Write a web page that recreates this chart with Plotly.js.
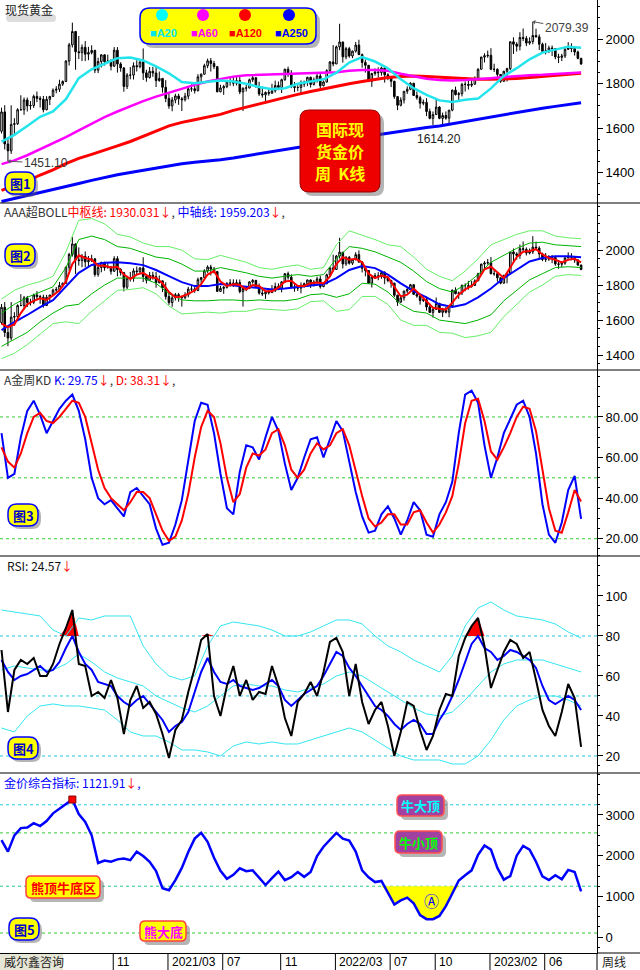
<!DOCTYPE html>
<html><head><meta charset="utf-8">
<script src="https://cdn.plot.ly/plotly-3.0.1.min.js"></script>
<style>html,body{margin:0;padding:0;background:#fff;}#chart{width:640px;height:970px;}</style>
</head><body><div id="chart"></div>
<script>
// ---------- weekly candles (week 0 = 2020-03-06 ... week 180 = 2023-08-18) ----------
const open = [1586,1673,1529,1498,1617,1620,1683,1683,1727,1700,
1702,1743,1734,1730,1683,1730,1743,1771,1775,1798,
1810,1902,1975,2035,1944,1940,1964,1933,1940,1950,
1861,1900,1930,1899,1902,1879,1951,1889,1871,1788,
1839,1839,1881,1877,1898,1849,1828,1856,1848,1814,
1824,1784,1734,1700,1727,1745,1732,1728,1744,1777,
1777,1769,1831,1843,1881,1903,1891,1877,1764,1781,
1787,1808,1812,1802,1814,1763,1780,1781,1818,1827,
1787,1754,1750,1761,1757,1768,1792,1783,1818,1865,
1845,1788,1783,1783,1798,1808,1829,1797,1818,1835,
1791,1808,1859,1898,1889,1966,1988,1921,1958,1925,
1947,1974,1931,1896,1883,1811,1846,1853,1850,1871,
1840,1826,1811,1742,1703,1727,1766,1775,1802,1747,
1737,1712,1716,1675,1644,1661,1695,1644,1657,1645,
1681,1771,1751,1755,1797,1797,1793,1798,1824,1865,
1920,1926,1928,1865,1865,1842,1811,1856,1868,1989,
1978,1969,2008,2004,1983,1990,2017,2011,1978,1946,
1948,1961,1958,1921,1919,1925,1955,1962,1959,1943,
1914];
const high = [1692,1703,1560,1703,1645,1690,1748,1738,1738,1722,
1751,1765,1744,1745,1744,1745,1779,1789,1818,1815,
1906,1984,2075,2038,2015,1977,1992,1966,1973,1953,
1917,1933,1933,1931,1910,1965,1965,1897,1875,1848,
1875,1896,1906,1901,1959,1863,1875,1876,1875,1855,
1825,1816,1760,1740,1755,1755,1740,1759,1790,1797,
1790,1843,1846,1890,1913,1916,1903,1878,1795,1795,
1818,1834,1833,1832,1832,1783,1795,1823,1834,1829,
1809,1787,1765,1781,1800,1814,1810,1823,1868,1877,
1861,1808,1793,1815,1814,1831,1832,1828,1848,1853,
1815,1865,1902,1974,1972,2070,1989,1966,1966,1949,
1988,1998,1936,1909,1884,1849,1869,1874,1877,1879,
1847,1830,1813,1745,1739,1767,1788,1807,1804,1765,
1746,1729,1735,1688,1675,1729,1699,1670,1675,1682,
1774,1787,1763,1804,1810,1824,1824,1833,1870,1921,
1937,1949,1960,1890,1869,1843,1858,1872,1989,2009,
1987,2032,2049,2015,2009,2079.39,2048,2022,1985,1983,
1971,1972,1959,1935,1935,1963,1987,1982,1960,1949,
1917];
const low = [1576,1504,1451.1,1484,1567,1614,1680,1660,1675,1683,
1691,1717,1693,1671,1680,1704,1740,1757,1763,1790,
1807,1882,1963,1863,1911,1902,1902,1906,1932,1848,
1848,1873,1882,1895,1860,1876,1850,1854,1764,1776,
1820,1819,1855,1869,1817,1809,1823,1831,1785,1809,
1760,1717,1687,1676,1712,1705,1677,1720,1730,1764,
1756,1765,1808,1840,1870,1855,1866,1761,1761,1750,
1780,1791,1789,1792,1753,1677,1765,1779,1808,1782,
1745,1737,1721,1746,1755,1760,1771,1758,1813,1831,
1780,1762,1766,1753,1785,1789,1783,1792,1805,1780,
1788,1805,1851,1878,1889,1951,1895,1910,1917,1915,
1940,1930,1872,1850,1807,1786,1836,1828,1836,1805,
1816,1785,1732,1681,1698,1711,1754,1771,1745,1728,
1688,1703,1654,1640,1614.2,1660,1640,1617,1638,1616,
1676,1747,1721,1743,1765,1774,1785,1795,1824,1865,
1896,1917,1861,1853,1819,1804,1809,1810,1861,1934,
1945,1950,1992,1969,1975,1978,2008,1952,1937,1932,
1938,1925,1910,1893,1902,1916,1952,1942,1927,1910,
1885];
const close = [1673,1529,1498,1617,1620,1683,1683,1727,1700,1702,
1743,1734,1730,1683,1730,1743,1771,1775,1798,1810,
1902,1975,2035,1944,1940,1964,1933,1940,1950,1861,
1900,1930,1899,1902,1879,1951,1889,1871,1788,1839,
1839,1881,1877,1898,1849,1828,1856,1848,1814,1824,
1784,1734,1700,1727,1745,1732,1728,1744,1777,1777,
1769,1831,1843,1881,1903,1891,1877,1764,1781,1787,
1808,1812,1802,1814,1763,1780,1781,1818,1827,1787,
1754,1750,1761,1757,1768,1792,1783,1818,1865,1845,
1788,1783,1783,1798,1808,1829,1797,1818,1835,1791,
1808,1859,1898,1889,1966,1988,1921,1958,1925,1947,
1974,1931,1896,1883,1811,1846,1853,1850,1871,1840,
1826,1811,1742,1703,1727,1766,1775,1802,1747,1737,
1712,1716,1675,1644,1661,1695,1644,1657,1645,1681,
1771,1751,1755,1797,1797,1793,1798,1824,1865,1920,
1926,1928,1865,1865,1842,1811,1856,1868,1989,1978,
1969,2008,2004,1983,1990,2017,2011,1978,1946,1948,
1961,1958,1921,1919,1925,1955,1962,1959,1943,1914,
1889];

const ma20 = [1539,1570,1610,1651,1675,1730,1825,1865,1890,1915,1918,1905,1878,1847,1808,1802,1809,1815,1810,1800,
1785,1775,1780,1800,1810,1820,1850,1895,1920,1900,1870,1820,1780,1750,1725,1718,1728,1733,1779,1835,
1870,1910,1940,1952,1967,1962];
const ma60 = [1438,1455,1478,1505,1530,1560,1590,1620,1650,1675,1700,1722,1742,1760,1779,1795,1810,1822,1832,1838,
1840,1840,1843,1845,1847,1850,1852,1858,1862,1862,1858,1845,1832,1822,1817,1815,1817,1820,1825,1830,
1835,1838,1840,1843,1846,1850];
const ma120 = [1320,1340,1362,1389,1412,1440,1464,1482,1500,1520,1540,1565,1587,1610,1626,1638,1650,1662,1680,1695,
1710,1725,1740,1752,1765,1777,1790,1800,1810,1820,1828,1833,1835,1833,1830,1826,1822,1820,1820,1820,
1823,1828,1833,1838,1843,1847];
const ma250 = [1270,1283,1296,1309,1322,1336,1351,1365,1378,1390,1400,1410,1423,1432,1440,1446,1451,1458,1466,1475,
1485,1495,1505,1514,1523,1532,1541,1551,1560,1569,1578,1587,1595,1603,1610,1620,1630,1640,1650,1661,
1671,1682,1690,1698,1706,1714];

// ---------- AAA super BOLL (every 4 weeks; pivot every 2 weeks) ----------
const bollMid = [1543,1589,1629,1674,1714,1790,1870,1915,1928,1931,1925,1914,1886,1851,1817,1794,1794,1806,1800,1790,
1783,1775,1780,1790,1798,1805,1840,1886,1909,1897,1860,1810,1765,1730,1690,1675,1690,1730,1780,1840,
1890,1935,1955,1965,1965,1959.203];
const bollInUp = [1640,1690,1730,1760,1790,1900,2060,2080,2060,2020,2010,1985,1960,1950,1920,1880,1880,1900,1885,1870,
1850,1840,1850,1860,1850,1860,1950,2020,2010,1990,1960,1930,1880,1820,1780,1760,1800,1860,1930,1970,
2010,2040,2045,2030,2025,2020];
const bollOutUp = [1720,1770,1800,1820,1850,1990,2170,2180,2150,2090,2075,2040,2020,2020,2000,1950,1945,1970,1950,1930,
1900,1890,1905,1915,1890,1900,2030,2110,2085,2060,2030,2020,1960,1890,1850,1825,1880,1950,2030,2060,
2090,2110,2110,2080,2070,2065];
const bollInLow = [1450,1490,1530,1590,1640,1680,1690,1750,1800,1840,1840,1840,1810,1750,1715,1710,1710,1715,1715,1710,
1715,1710,1710,1720,1745,1750,1730,1750,1810,1805,1760,1690,1650,1640,1600,1590,1580,1600,1630,1710,
1770,1830,1865,1900,1905,1900];
const bollOutLow = [1380,1410,1460,1520,1580,1590,1580,1650,1710,1770,1775,1785,1750,1680,1635,1640,1645,1640,1650,1650,
1665,1660,1655,1665,1705,1710,1650,1660,1735,1735,1690,1600,1570,1570,1530,1525,1500,1510,1530,1620,
1690,1760,1800,1850,1860,1855];
const bollPivot = [1580,1560,1575,1640,1690,1710,1725,1715,1740,1770,1820,1920,1970,1955,1945,1910,1910,1900,1905,1860,
1835,1860,1870,1845,1840,1810,1760,1730,1735,1750,1770,1805,1860,1880,1820,1795,1805,1800,1775,1800,
1795,1765,1765,1785,1820,1825,1795,1795,1810,1815,1810,1850,1920,1960,1945,1950,1930,1865,1840,1855,
1845,1790,1735,1745,1780,1745,1710,1670,1665,1660,1700,1745,1775,1795,1830,1890,1905,1870,1840,1900,
1960,1990,1995,2005,1975,1955,1945,1930,1945,1950,1930.031];

// ---------- weekly KD (every 2 weeks) ----------
const kLine = [72,50,52,70,83,88,81,72,78,84,88,91,83,69,50,40,37,39,35,31,
43,45,41,37,25,17,18,27,39,58,78,87,86,72,52,35,32,53,66,65,
59,70,80,73,57,44,50,60,69,70,60,69,78,73,58,43,31,23,24,32,
36,30,22,29,38,34,22,21,32,38,48,72,91,93,87,66,50,60,72,79,
86,88,80,62,37,22,18,28,44,51,29.75];
const dLine = [65,58,55,62,72,80,82,78,77,80,84,88,87,80,67,54,45,40,37,34,
38,43,43,40,32,24,19,21,29,42,60,75,83,80,67,50,38,42,55,62,
61,64,72,74,66,54,50,54,62,67,64,66,72,74,66,53,41,30,26,28,
32,32,27,27,33,34,28,23,27,33,41,57,77,88,89,78,63,59,65,72,
80,85,84,73,53,35,24,23,33,44,38.31];

// ---------- RSI (every 2 weeks) and its bands (every 4 weeks) ----------
const rsi = [73,42,63,68,66,69,60,60,66,76,84,93,66,65,50,52,49,58,49,31,
48,55,44,47,41,31,19,33,38,52,64,78,81,50,40,55,65,50,58,48,
52,51,65,55,39,30,47,51,57,50,62,77,79,72,50,66,47,36,43,47,
35,20,32,47,45,33,23,30,43,51,50,70,79,85,89,75,54,63,72,78,
76,69,72,58,43,35,30,42,56,49,24.57];
const rsiMa = [68,62,58,60,61,63,65,62,63,67,74,80,72,66,63,57,56,55,50,47,
45,48,50,46,42,38,32,35,37,42,52,62,69,62,57,56,58,55,54,53,
54,56,58,55,48,45,48,51,53,55,60,66,72,70,64,60,55,50,45,43,
40,36,33,36,38,36,31,31,38,43,50,58,67,76,80,74,72,68,70,73,
72,70,68,64,55,48,46,48,50,48,43];
const rsiUp = [93,92,91,90,83,80,89,88,90,90,90,75,66,60,58,60,75,85,87,86,
85,83,80,80,82,85,88,88,86,80,75,72,68,65,62,70,85,94,97,93,
90,89,88,86,82,79];
const rsiMid = [63,65,64,63,63,66,71,67,62,59,57,55,50,47,44,42,45,50,55,56,
55,55,53,52,54,56,60,62,60,56,52,48,44,41,40,42,48,55,62,66,
68,68,68,66,64,62];
const rsiLow = [34,32,40,45,46,45,45,44,43,38,32,30,30,27,23,23,22,20,25,27,
26,27,26,26,28,30,32,34,32,28,24,20,18,18,18,16,16,20,28,38,
45,48,50,50,48,45];

// ---------- gold composite index (every 2 weeks) ----------
const composite = [2383,2100,2500,2678,2690,2800,2727,2850,3040,3160,3260,3380,3020,2830,2500,1820,1880,1850,1910,1930,
1890,2100,1990,1850,1620,1200,1150,1400,1700,2090,2420,2560,2340,1950,1630,1430,1530,1690,1620,1640,
1460,1280,1450,1610,1400,1470,1600,1480,1600,1990,2220,2380,2560,2420,2370,2100,1640,1470,1351,1380,
1100,800,900,970,830,540,440,440,520,760,1070,1390,1520,1640,2020,2250,2150,1700,1410,1500,
2000,2240,2150,1850,1490,1400,1520,1420,1650,1600,1121.91];
const bullBearLine = 1250;        // 熊顶牛底区 level
const bottomZone = [118, 142];    // weeks of the shaded bottom (Ⓐ)

// ---------- x axis labels ----------
const tickWeeks = [35, 52, 69, 87, 104, 121, 135, 152, 169];
const tickText  = ['11','2021/03','07','11','2022/03','07','10','2023/02','06'];

// ================= drawing =================
const wk = close.map((_, i) => i);
const w2 = kLine.map((_, i) => 2 * i);
const w4 = ma20.map((_, i) => 4 * i);

const PW = 597, PH = 953;
const X = p => p / PW;
const Y = p => (PH - p) / PH;
const FONT = 'Liberation Sans, Arial, Noto Sans CJK SC, sans-serif';
const CJK = 'Noto Sans CJK SC, Liberation Sans, sans-serif';

function line(x, y, yaxis, color, width, extra) {
  return Object.assign({type:'scatter', mode:'lines', x, y, xaxis:'x', yaxis,
    line:{color, width}, hoverinfo:'skip', cliponaxis:true}, extra || {});
}
function candles(yaxis, w) {
  return {type:'candlestick', x:wk, open, high, low, close, xaxis:'x', yaxis,
    increasing:{line:{color:'#000', width:w}, fillcolor:'#fff'},
    decreasing:{line:{color:'#000', width:w}, fillcolor:'#000'},
    whiskerwidth:0, hoverinfo:'skip'};
}

const traces = [];
// panel 1
traces.push(candles('y', 1));
traces.push(line(w4, ma250, 'y', '#0000ff', 3));
traces.push(line(w4, ma120, 'y', '#ff0000', 3));
traces.push(line(w4, ma60, 'y', '#ff00ff', 2.5));
traces.push(line(w4, ma20, 'y', '#22e4ec', 2.5));
// panel 2
traces.push(candles('y2', 1));
traces.push(line(w4, bollOutUp, 'y2', '#66ee66', 1));
traces.push(line(w4, bollOutLow, 'y2', '#66ee66', 1));
traces.push(line(w4, bollInUp, 'y2', '#00b400', 1));
traces.push(line(w4, bollInLow, 'y2', '#00b400', 1));
traces.push(line(w4, bollMid, 'y2', '#0000ff', 2));
traces.push(line(w2, bollPivot, 'y2', '#ff0000', 2));
// panel 3
traces.push(line(w2, kLine, 'y3', '#0000ff', 2));
traces.push(line(w2, dLine, 'y3', '#ff0000', 2));
// panel 4
traces.push(line(w2, rsi.map(() => 80), 'y4', 'rgba(0,0,0,0)', 0));
traces.push(line(w2, rsi.map(v => Math.max(v, 80)), 'y4', 'rgba(0,0,0,0)', 0, {fill:'tonexty', fillcolor:'#ff0000'}));
traces.push(line(w4, rsiUp, 'y4', '#33e6f0', 1));
traces.push(line(w4, rsiMid, 'y4', '#33e6f0', 1));
traces.push(line(w4, rsiLow, 'y4', '#33e6f0', 1));
traces.push(line(w2, rsiMa, 'y4', '#0000ff', 2));
traces.push(line(w2, rsi, 'y4', '#000000', 2));
// panel 5
const zi = w2.map((w, i) => i).filter(i => w2[i] >= bottomZone[0] && w2[i] <= bottomZone[1]);
traces.push(line(zi.map(i => w2[i]), zi.map(() => bullBearLine), 'y5', 'rgba(0,0,0,0)', 0));
traces.push(line(zi.map(i => w2[i]), zi.map(i => Math.min(composite[i], bullBearLine)), 'y5', 'rgba(0,0,0,0)', 0, {fill:'tonexty', fillcolor:'#ffff00'}));
traces.push(line(w2, composite, 'y5', '#0000ff', 2.5));
const pk = composite.indexOf(Math.max(...composite));
traces.push({type:'scatter', mode:'markers', x:[w2[pk]], y:[composite[pk]], xaxis:'x', yaxis:'y5',
  marker:{symbol:'square', size:7, color:'#ff0000', line:{color:'#800000', width:1}}, hoverinfo:'skip'});

function yax(domain, range, tickvals, fmt, minorD) {
  return {domain, range, side:'right', anchor:'x', tickvals, tickformat:fmt, showgrid:false, zeroline:false,
    showline:true, linecolor:'#000', linewidth:1, ticks:'outside', ticklen:5, tickcolor:'#000',
    tickfont:{family:FONT, size:13, color:'#000'},
    minor:{ticks:'outside', ticklen:2, tickcolor:'#000', dtick:minorD, showgrid:false}, fixedrange:true};
}

const shapes = [];
const annotations = [];
function rr(x0, y0, x1, y1, r) {
  const p = (x, y) => X(x) + ',' + Y(y);
  return `M${p(x0+r,y0)} L${p(x1-r,y0)} Q${p(x1,y0)} ${p(x1,y0+r)} L${p(x1,y1-r)} Q${p(x1,y1)} ${p(x1-r,y1)} L${p(x0+r,y1)} Q${p(x0,y1)} ${p(x0,y1-r)} L${p(x0,y0+r)} Q${p(x0,y0)} ${p(x0+r,y0)} Z`;
}
function box(x0, y0, x1, y1, r, fill, border, bw, shadow) {
  if (shadow) shapes.push({type:'path', xref:'paper', yref:'paper', path:rr(x0+4, y0+4, x1+4, y1+4, r), fillcolor:'rgba(90,90,90,0.45)', line:{width:0}});
  shapes.push({type:'path', xref:'paper', yref:'paper', path:rr(x0, y0, x1, y1, r), fillcolor:fill, line:{color:border, width:bw}});
}
function txt(x, y, text, size, color, opts) {
  annotations.push(Object.assign({xref:'paper', yref:'paper', x:X(x), y:Y(y), text, showarrow:false,
    xanchor:'left', yanchor:'middle', font:{family:FONT, size, color}}, opts || {}));
}
function hline(yaxis, v, color) {
  shapes.push({type:'line', xref:'paper', x0:0, x1:1, yref:yaxis, y0:v, y1:v, line:{color, width:1, dash:'dot'}, layer:'below'});
}

// panel separators
[203, 370, 556, 773].forEach(py => shapes.push({type:'line', xref:'paper', yref:'paper', x0:0, x1:X(640), y0:Y(py), y1:Y(py), line:{color:'#000', width:1.2}}));
shapes.push({type:'line', xref:'paper', yref:'paper', x0:1, x1:X(640), y0:0, y1:0, line:{color:'#000', width:1}});
shapes.push({type:'line', xref:'paper', yref:'paper', x0:1, x1:1, y0:0, y1:Y(970), line:{color:'#000', width:1}});

// dotted levels
[80, 50, 20].forEach(v => hline('y3', v, '#33cc33'));
[80, 50, 20].forEach(v => hline('y4', v, '#22c8e0'));
hline('y5', 3250, '#22d0e0'); hline('y5', 2560, '#33cc33'); hline('y5', bullBearLine, '#22cc88'); hline('y5', 100, '#33cc33');

// title shadow
shapes.push({type:'path', xref:'paper', yref:'paper', path:rr(6, 14, 56, 22, 4), fillcolor:'rgba(120,120,120,0.25)', line:{width:0}});

// legend box
box(140, 8, 316, 44, 10, '#ffff00', '#0000ff', 1.5, true);
[['#00ffff',162], ['#ff00ff',203], ['#ff0000',245], ['#0000ff',289]].forEach(([c, cx]) =>
  shapes.push({type:'circle', xref:'paper', yref:'paper', x0:X(cx-6), x1:X(cx+6), y0:Y(21), y1:Y(9), fillcolor:c, line:{width:0}}));
[['■A20','#00e8f0',148], ['■A60','#ff00ff',189], ['■A120','#ff0000',227], ['■A250','#0000ff',273]].forEach(([t, c, x]) =>
  txt(x, 33, '<b>' + t + '</b>', 11, c));

// big red box
box(300, 110, 380, 192, 9, '#ee0000', '#990000', 1, true);
[['国际现', 129], ['货金价', 151], ['周  K线', 173]].forEach(([t, y]) =>
  txt(340, y, '<b>' + t + '</b>', 16, '#ffff00', {xanchor:'center', borderpad:0, font:{family:CJK, size:16, color:'#ffff00'}}));

// panel labels 图N
[['图1',20,183], ['图2',20,255], ['图3',23,515], ['图4',23,748], ['图5',24,929]].forEach(([t, x, y]) => {
  shapes.push({type:'path', xref:'paper', yref:'paper', path:rr(x-15+3, y-11+3, x+15+3, y+11+3, 9), fillcolor:'rgba(90,90,90,0.45)', line:{width:0}});
  shapes.push({type:'path', xref:'paper', yref:'paper', path:rr(x-15, y-11, x+15, y+11, 9), fillcolor:'#ffff00', line:{color:'#0000ff', width:1.5}});
  txt(x, y, '<b>' + t + '</b>', 13, '#0000ff', {xanchor:'center', font:{family:CJK, size:13, color:'#0000cc'}});
});

// panel 5 labels
box(26, 876, 100, 898, 5, '#ffff00', '#ff4040', 1.5, true);
txt(63, 887, '<b>熊顶牛底区</b>', 13, '#ff0000', {xanchor:'center', font:{family:CJK, size:13, color:'#ff0000'}});
box(140, 921, 186, 941, 5, '#ffff00', '#ff4040', 1.5, true);
txt(163, 931, '<b>熊大底</b>', 13, '#ff00ff', {xanchor:'center', font:{family:CJK, size:13, color:'#ff00ff'}});
box(397, 795, 444, 816, 5, '#a040a0', '#ff5050', 1.5, true);
txt(420, 805, '<b>牛大顶</b>', 13, '#00ffff', {xanchor:'center', font:{family:CJK, size:13, color:'#00ffff'}});
box(395, 831, 442, 853, 5, '#a040a0', '#ff5050', 1.5, true);
txt(418, 842, '<b>牛小顶</b>', 13, '#00ff00', {xanchor:'center', font:{family:CJK, size:13, color:'#00ff00'}});
txt(431, 901, 'Ⓐ', 14, '#0000ff', {xanchor:'center', font:{family:FONT, size:15, color:'#0000ff'}});

// headers
txt(3, 9, '现货黄金', 12, '#222', {font:{family:CJK, size:12, color:'#222'}});
txt(2, 212, 'AAA超BOLL<span style="color:#ff0000">中枢线: 1930.031↓</span>, <span style="color:#0000ff">中轴线: 1959.203</span><span style="color:#ff0000">↓</span>,', 12, '#333', {font:{family:CJK, size:12, color:'#333'}});
txt(2, 379, 'A金周KD <span style="color:#0000ff">K: 29.75</span><span style="color:#ff0000">↓</span>, <span style="color:#ff0000">D: 38.31↓</span>,', 12, '#333', {font:{family:CJK, size:12, color:'#333'}});
txt(5, 565, 'RSI: 24.57<span style="color:#ff0000">↓</span>', 12, '#111', {font:{family:CJK, size:12, color:'#111'}});
txt(2, 782, '金价综合指标: 1121.91<span style="color:#ff0000">↓</span>,', 12, '#0000ff', {font:{family:CJK, size:12, color:'#0000ff'}});

// price labels
annotations.push({xref:'x', yref:'y', x:165, y:2079.39, text:'2079.39', showarrow:true, arrowhead:1, arrowsize:0.8, arrowwidth:1, arrowcolor:'#555', ax:34, ay:6, font:{family:FONT, size:12, color:'#444'}});
annotations.push({xref:'x', yref:'y', x:2, y:1451.1, text:'1451.10', showarrow:true, arrowhead:1, arrowsize:0.8, arrowwidth:1, arrowcolor:'#555', ax:38, ay:2, font:{family:FONT, size:12, color:'#333'}});
annotations.push({xref:'x', yref:'y', x:134, y:1614.2, text:'1614.20', showarrow:false, yanchor:'top', yshift:-5, xshift:6, font:{family:FONT, size:12, color:'#222'}});

// bottom time labels
tickWeeks.forEach((w, i) => {
  shapes.push({type:'line', xref:'x', yref:'paper', x0:w - 0.3, x1:w - 0.3, y0:0, y1:Y(970), line:{color:'#000', width:1}});
  annotations.push({xref:'x', yref:'paper', x:w, y:Y(962), text:tickText[i], showarrow:false, xanchor:'left', yanchor:'middle', xshift:1, font:{family:FONT, size:12, color:'#000'}});
});
shapes.push({type:'rect', xref:'paper', yref:'paper', x0:0, x1:X(63), y0:Y(954), y1:Y(970), fillcolor:'#e6e6d6', line:{width:0}});
txt(2, 962, '威尔鑫咨询', 12, '#222', {font:{family:CJK, size:12, color:'#222'}});
txt(600, 962, '周线', 12, '#222', {font:{family:CJK, size:12, color:'#222'}});

const layout = {
  width:640, height:970, margin:{l:0, r:43, t:0, b:17}, paper_bgcolor:'#fff', plot_bgcolor:'#fff',
  showlegend:false, hovermode:false, font:{family:FONT, size:12, color:'#000'},
  xaxis:{range:[-0.47, 184.94], anchor:'y5', showticklabels:false, ticks:'', showgrid:false, zeroline:false,
    showline:true, linecolor:'#000', linewidth:1, rangeslider:{visible:false}, fixedrange:true},
  yaxis: yax([0.787, 1], [1263, 2177], [1400,1600,1800,2000], 'd', 50),
  yaxis2: yax([0.6118, 0.787], [1315, 2269], [1400,1600,1800,2000], 'd', 50),
  yaxis3: yax([0.4166, 0.6118], [11.5, 103.15], [20,40,60,80], '.2f', 5),
  yaxis4: yax([0.1889, 0.4166], [11.5, 120], [20,40,60,80,100], 'd', 5),
  yaxis5: yax([0, 0.1889], [-391, 4032], [0,1000,2000,3000], 'd', 250),
  shapes, annotations
};
Plotly.newPlot('chart', traces, layout, {displayModeBar:false, staticPlot:true});
</script>
</body></html>
